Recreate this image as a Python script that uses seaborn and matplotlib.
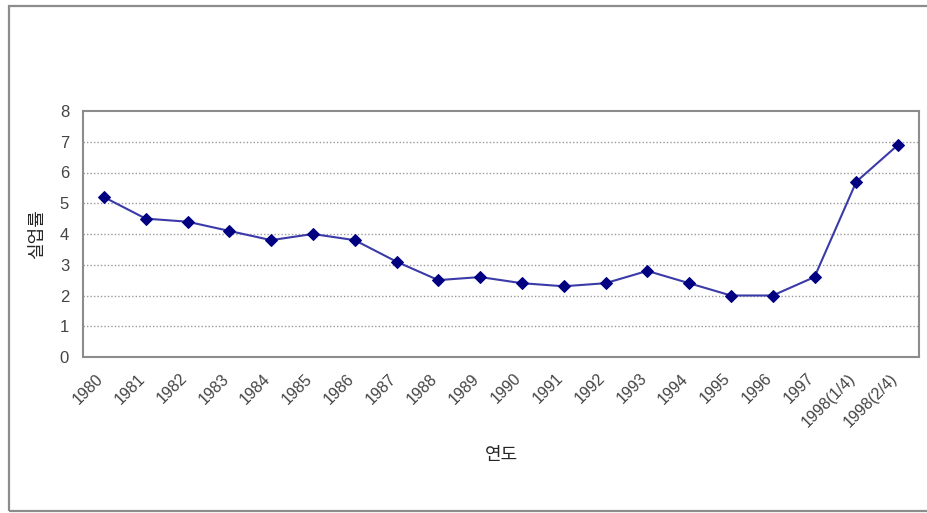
import matplotlib
matplotlib.use("Agg")
import matplotlib.pyplot as plt
import matplotlib.transforms as mtransforms
import seaborn as sns
import pandas as pd
from matplotlib.patches import Rectangle

# data
years = ["1980", "1981", "1982", "1983", "1984", "1985", "1986", "1987",
         "1988", "1989", "1990", "1991", "1992", "1993", "1994", "1995",
         "1996", "1997", "1998(1/4)", "1998(2/4)"]
rates = [5.2, 4.5, 4.4, 4.1, 3.8, 4.0, 3.8, 3.1,
         2.5, 2.6, 2.4, 2.3, 2.4, 2.8, 2.4, 2.0,
         2.0, 2.6, 5.7, 6.9]
y_ticks = [0, 1, 2, 3, 4, 5, 6, 7, 8]

df = pd.DataFrame({"year": years, "rate": rates})

sns.set_style("white")
plt.rcParams['font.family'] = ['Liberation Sans', 'Noto Sans CJK KR', 'DejaVu Sans']

fig = plt.figure(figsize=(9.27, 5.13), dpi=100)
ax = fig.add_axes([83 / 927, 1 - 357 / 513, (919 - 83) / 927, (357 - 111) / 513])

# outer chart frame
fig.patches.append(Rectangle((9 / 927, 2 / 513), 1.2, 505 / 513,
                             transform=fig.transFigure, fill=False,
                             edgecolor='#8c8c8c', linewidth=1.6))

sns.lineplot(data=df, x="year", y="rate", ax=ax, color='#3a3aa8',
             linewidth=1.5, marker='D', markersize=6,
             markerfacecolor='#000080', markeredgecolor='#000080', sort=False)

ax.set_xlim(-0.5, len(years) - 0.5)
ax.set_ylim(0, 8)
ax.set_yticks(y_ticks)
ax.set_yticklabels([str(t) for t in y_ticks], fontsize=12, color='#444444')
ax.set_xticks(range(len(years)))
ax.set_xticklabels(years, rotation=45, ha='right', rotation_mode='anchor',
                   fontsize=11.5, color='#444444')
ax.tick_params(axis='x', length=0, pad=10)
ax.tick_params(axis='y', length=0, pad=10)
ax.set_xticks([i + 0.5 for i in range(len(years) - 1)], minor=True)
ax.tick_params(axis='x', which='minor', direction='in', length=4, color='#808080')

# nudge the rotated labels a little left, as in the reference
shift = mtransforms.ScaledTranslation(-6 / 72, 0, fig.dpi_scale_trans)
for lbl in ax.get_xticklabels():
    lbl.set_transform(lbl.get_transform() + shift)

for t in y_ticks[1:-1]:
    ax.axhline(t, color='#9a9a9a', linestyle=(0, (1, 1.5)), linewidth=1, zorder=0)

for s in ax.spines.values():
    s.set_color('#8c8c8c')
    s.set_linewidth(1.5)

ax.set_xlabel("연도", fontsize=13, labelpad=12)
ax.set_ylabel("실업률", fontsize=13, labelpad=10)

fig.savefig("out.png", dpi=100)
